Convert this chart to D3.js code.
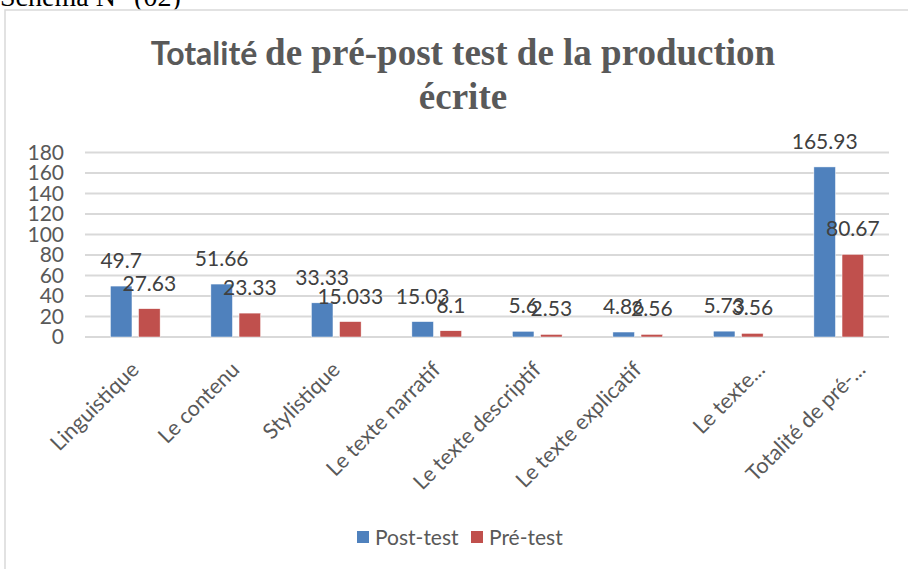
<!DOCTYPE html>
<html>
<head>
<meta charset="utf-8">
<script src="https://cdn.jsdelivr.net/npm/d3@7"></script>
<style>
	body { margin: 0; background: #fff; }
	svg { display: block; }
</style>
</head>
<body>
<div id="chart"></div>
<script>
// chart data
var categories = [
	"Linguistique",
	"Le contenu",
	"Stylistique",
	"Le texte narratif",
	"Le texte descriptif",
	"Le texte explicatif",
	"Le texte...",
	"Totalité de pré-..."
];
var seriesNames = ["Post-test", "Pré-test"];
var postTest = [49.7, 51.66, 33.33, 15.03, 5.6, 4.86, 5.73, 165.93];
var preTest = [27.63, 23.33, 15.033, 6.1, 2.53, 2.56, 3.56, 80.67];
var yTicks = [0, 20, 40, 60, 80, 100, 120, 140, 160, 180];

var width = 908;
var height = 569;
var margin = { top: 152.5, right: 19, bottom: 232, left: 85 };
var colors = ["#4f81bd", "#c0504d"];

var svg = d3
	.select("#chart")
	.append("svg")
	.attr("width", width)
	.attr("height", height);

svg.append("rect").attr("width", width).attr("height", height).attr("fill", "#fff");

// caption of the page, cut at the top
svg
	.append("text")
	.attr("x", 0)
	.attr("y", 6)
	.attr("font-family", "Liberation Serif, serif")
	.attr("font-size", "28px")
	.attr("fill", "#000")
	.text("Schéma N° (02)");

// chart frame
svg
	.append("rect")
	.attr("x", 5)
	.attr("y", 10)
	.attr("width", 1000)
	.attr("height", 700)
	.attr("fill", "#fff")
	.attr("stroke", "#d9d9d9")
	.attr("stroke-width", 1.5);

// title
var title = svg
	.append("text")
	.attr("x", 463)
	.attr("y", 65)
	.attr("text-anchor", "middle")
	.attr("fill", "#595959")
	.attr("font-weight", "bold")
	.attr("font-size", "37px");
title.append("tspan").attr("font-family", "Lato, sans-serif").attr("font-size", "32px").text("Totalité ");
title
	.append("tspan")
	.attr("font-family", "Liberation Serif, serif")
	.text("de pré-post test de la production");
svg
	.append("text")
	.attr("x", 463)
	.attr("y", 109)
	.attr("text-anchor", "middle")
	.attr("fill", "#595959")
	.attr("font-weight", "bold")
	.attr("font-size", "37px")
	.attr("font-family", "Liberation Serif, serif")
	.text("écrite");

// scales
var x = d3
	.scaleBand()
	.domain(categories)
	.range([margin.left, width - margin.right]);
var y = d3
	.scaleLinear()
	.domain([0, 180])
	.range([height - margin.bottom, margin.top]);

var barWidth = x.bandwidth() * 0.215;
var barGap = x.bandwidth() * 0.065;

// gridlines
svg
	.append("g")
	.selectAll("line")
	.data(yTicks)
	.join("line")
	.attr("x1", margin.left)
	.attr("x2", width - margin.right)
	.attr("y1", (d) => y(d))
	.attr("y2", (d) => y(d))
	.attr("stroke", "#d9d9d9")
	.attr("stroke-width", 2);

// Y-axis labels
var yAxis = svg
	.append("g")
	.attr("transform", `translate(${margin.left - 21}, 0)`)
	.call(d3.axisLeft(y).tickValues(yTicks).tickSize(0).tickPadding(0));
yAxis.select(".domain").remove();
yAxis
	.selectAll("text")
	.attr("font-family", "Lato, sans-serif")
	.attr("font-size", "21px")
	.attr("fill", "#595959");

// X-axis labels (truncated ones sit a little further right)
svg
	.append("g")
	.selectAll("text")
	.data(categories)
	.join("text")
	.attr("transform", function (d) {
		var shift = d.endsWith("...") ? 28 : 5;
		return `translate(${x(d) + x.bandwidth() / 2 + shift}, ${height - margin.bottom + 34}) rotate(-45)`;
	})
	.attr("text-anchor", "end")
	.attr("font-family", "Lato, sans-serif")
	.attr("font-size", "21.5px")
	.attr("fill", "#595959")
	.text((d) => d);

// bars
var series = [postTest, preTest];
series.forEach(function (values, i) {
	var xOffset = (x.bandwidth() - 2 * barWidth - barGap) / 2 + i * (barWidth + barGap);
	var group = svg.append("g").attr("class", "series-" + i);

	group
		.selectAll("rect")
		.data(values)
		.join("rect")
		.attr("x", (d, j) => x(categories[j]) + xOffset)
		.attr("y", (d) => y(d))
		.attr("width", barWidth)
		.attr("height", (d) => y(0) - y(d))
		.attr("fill", colors[i])
		.attr("stroke", "#fff")
		.attr("stroke-width", 0.5);

	group
		.selectAll("text")
		.data(values)
		.join("text")
		.attr("x", (d, j) => x(categories[j]) + xOffset + barWidth / 2)
		.attr("y", (d) => y(d) - 18)
		.attr("text-anchor", "middle")
		.attr("font-family", "Lato, sans-serif")
		.attr("font-size", "21px")
		.attr("fill", "#404040")
		.text((d) => d);
});

// legend
var legend = svg
	.append("g")
	.attr("transform", "translate(357, 0)");
var legendX = [0, 114];
seriesNames.forEach(function (name, i) {
	legend
		.append("rect")
		.attr("x", legendX[i])
		.attr("y", 531)
		.attr("width", 12)
		.attr("height", 12)
		.attr("fill", colors[i]);
	legend
		.append("text")
		.attr("x", legendX[i] + 18)
		.attr("y", 545)
		.attr("font-family", "Lato, sans-serif")
		.attr("font-size", "21px")
		.attr("fill", "#595959")
		.text(name);
});
</script>
</body>
</html>
